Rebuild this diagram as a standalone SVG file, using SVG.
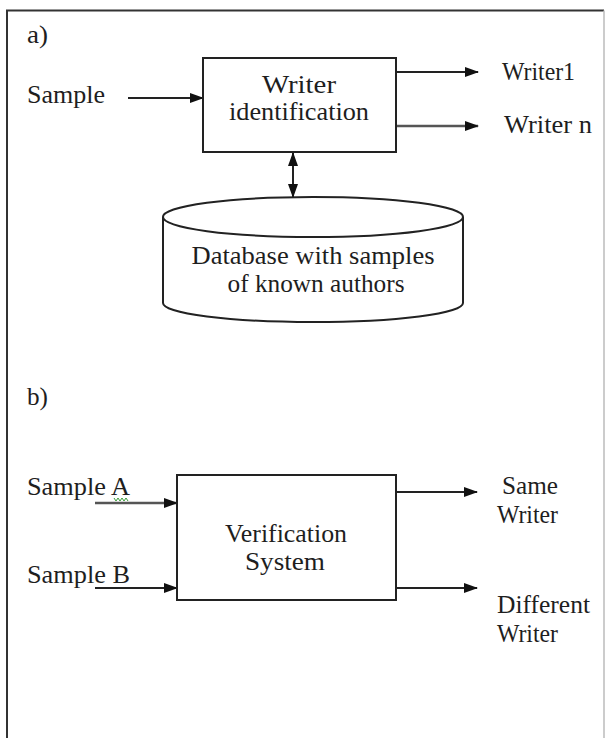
<svg xmlns="http://www.w3.org/2000/svg" width="609" height="738" viewBox="0 0 609 738">
<style>
text{font-family:"Liberation Serif","Times New Roman",serif;font-size:25px;fill:#1e1e1e}
.c{text-anchor:middle}
.box{fill:#fff;stroke:#222;stroke-width:2}
.ln{stroke:#222;stroke-width:2;fill:none}
.gl{stroke:#555;stroke-width:2.6;fill:none}
</style>
<defs>
<marker id="ah" markerUnits="userSpaceOnUse" markerWidth="14" markerHeight="12" refX="13" refY="6" orient="auto-start-reverse">
<path d="M0,1 L14,6 L0,11 z" fill="#111"/>
</marker>
</defs>
<rect x="0" y="0" width="609" height="738" fill="#fff"/>
<path id="frame" d="M7,750 L7,10.5 L604,10.5" fill="none" stroke="#333" stroke-width="2"/>
<line x1="604" y1="10.5" x2="604" y2="750" stroke="#bbb" stroke-width="1.5"/>
<text x="27" y="43" textLength="21" lengthAdjust="spacingAndGlyphs">a)</text>
<text x="27" y="405" textLength="21" lengthAdjust="spacingAndGlyphs">b)</text>
<g id="connectors">
<line class="ln" x1="128" y1="98" x2="203" y2="98" marker-end="url(#ah)"/>
<line class="ln" x1="396" y1="72" x2="478" y2="72" marker-end="url(#ah)"/>
<line class="gl" x1="396" y1="126" x2="478" y2="126" marker-end="url(#ah)"/>
<line class="ln" x1="293" y1="153" x2="293" y2="197" marker-start="url(#ah)" marker-end="url(#ah)"/>
<line class="gl" x1="95" y1="503" x2="177" y2="503" marker-end="url(#ah)"/>
<line class="ln" x1="95" y1="588" x2="177" y2="588" marker-end="url(#ah)"/>
<line class="ln" x1="396" y1="492" x2="477" y2="492" marker-end="url(#ah)"/>
<line class="ln" x1="396" y1="588" x2="477" y2="588" marker-end="url(#ah)"/>
</g>
<g id="sample">
<text x="27" y="103" textLength="78" lengthAdjust="spacingAndGlyphs">Sample</text>
</g>
<g id="writer-identification">
<rect class="box" x="203" y="58" width="193" height="94"/>
<text class="c" x="299" y="93" textLength="74" lengthAdjust="spacingAndGlyphs">Writer</text>
<text class="c" x="299" y="120" textLength="140" lengthAdjust="spacingAndGlyphs">identification</text>
</g>
<g id="writer1">
<text x="502" y="80" textLength="73" lengthAdjust="spacingAndGlyphs">Writer1</text>
</g>
<g id="writern">
<text x="504" y="133" textLength="88" lengthAdjust="spacingAndGlyphs">Writer  n</text>
</g>
<g id="database">
<path d="M163,217 L163,303 A150,19 0 0 0 463,303 L463,217" fill="#fff" stroke="#222" stroke-width="2"/>
<ellipse cx="313" cy="217" rx="150" ry="20" fill="#fff" stroke="#222" stroke-width="2"/>
<text class="c" x="313" y="264" textLength="243" lengthAdjust="spacingAndGlyphs">Database with samples</text>
<text class="c" x="316" y="292" textLength="177" lengthAdjust="spacingAndGlyphs">of known authors</text>
</g>
<g id="sample-a">
<text x="27" y="495" textLength="103" lengthAdjust="spacingAndGlyphs">Sample A</text>
<polyline points="114,498 116,501 118,498 120,501 122,498 124,501 126,498 128,501" fill="none" stroke="#3a9a3a" stroke-width="1"/>
</g>
<g id="sample-b">
<text x="27" y="583" textLength="103" lengthAdjust="spacingAndGlyphs">Sample B</text>
</g>
<g id="verification-system">
<rect class="box" x="177" y="475" width="219" height="125"/>
<text class="c" x="286" y="542" textLength="122" lengthAdjust="spacingAndGlyphs">Verification</text>
<text class="c" x="285" y="570" textLength="80" lengthAdjust="spacingAndGlyphs">System</text>
</g>
<g id="same-writer">
<text x="502" y="494" textLength="56" lengthAdjust="spacingAndGlyphs">Same</text>
<text x="497" y="523" textLength="61" lengthAdjust="spacingAndGlyphs">Writer</text>
</g>
<g id="different-writer">
<text x="497" y="613" textLength="93" lengthAdjust="spacingAndGlyphs">Different</text>
<text x="497" y="642" textLength="61" lengthAdjust="spacingAndGlyphs">Writer</text>
</g>
</svg>
